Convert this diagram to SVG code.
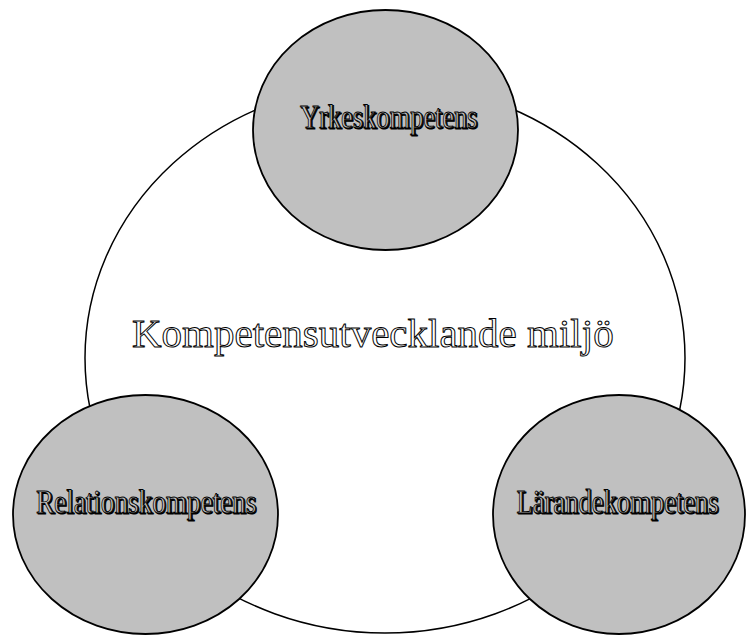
<svg xmlns="http://www.w3.org/2000/svg" width="747" height="635" viewBox="0 0 747 635">
<style>
.outer{fill:#ffffff;stroke:#000;stroke-width:1.5}
.node{fill:#c0c0c0;stroke:#000;stroke-width:1.8}
.lbl{font-family:"Liberation Serif","Times New Roman",serif;font-size:33px;text-anchor:start}
.lbl-shadow{fill:#000;stroke:#000;stroke-width:1.2}
.lbl-main{fill:#c0c0c0;stroke:#000;stroke-width:0.9}
.title{font-family:"Liberation Serif","Times New Roman",serif;font-size:41px;fill:#fff;stroke:#000;stroke-width:1}
</style>
<rect width="747" height="635" fill="#fff"/>
<g id="environment">
<ellipse class="outer" cx="385" cy="358" rx="300" ry="275"/>
<text class="title" x="132" y="347">Kompetensutvecklande miljö</text>
</g>
<g id="connectors"></g>
<g id="yrkeskompetens">
<ellipse class="node" cx="385.5" cy="130" rx="132.5" ry="120"/>
<text class="lbl lbl-shadow" transform="translate(301.2,129.3) scale(0.80,1)">Yrkeskompetens</text>
<text class="lbl lbl-main" transform="translate(300,128) scale(0.80,1)">Yrkeskompetens</text>
</g>
<g id="relationskompetens">
<ellipse class="node" cx="145.5" cy="514.5" rx="132.5" ry="119.5"/>
<text class="lbl lbl-shadow" transform="translate(37.2,514.3) scale(0.823,1)">Relationskompetens</text>
<text class="lbl lbl-main" transform="translate(36,513) scale(0.823,1)">Relationskompetens</text>
</g>
<g id="larandekompetens">
<ellipse class="node" cx="619" cy="514.5" rx="126" ry="119.5"/>
<text class="lbl lbl-shadow" transform="translate(517.7,514.3) scale(0.805,1)">Lärandekompetens</text>
<text class="lbl lbl-main" transform="translate(516.5,513) scale(0.805,1)">Lärandekompetens</text>
</g>
</svg>
